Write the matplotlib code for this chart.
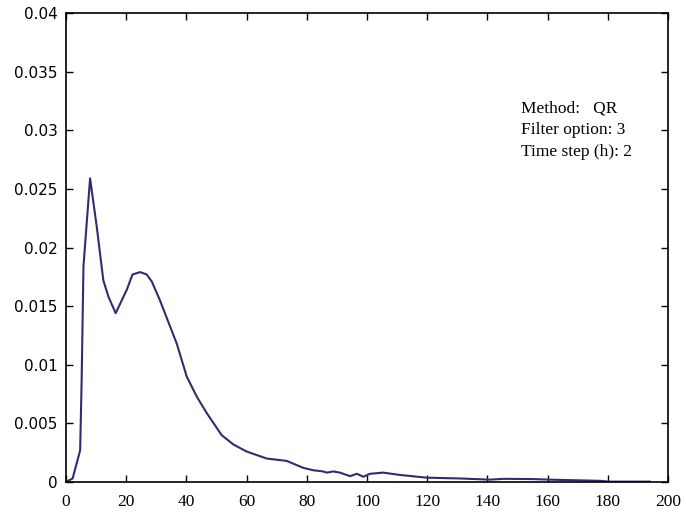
import matplotlib
matplotlib.use("Agg")
import matplotlib.pyplot as plt

# Data
x = [0, 2.2, 4.7, 5.2, 5.8, 8.0, 10.2, 12.4, 14.1, 16.5, 20.2, 22.1, 24.6, 26.8,
     28.5, 31.2, 36.8, 40.1, 43.4, 46.7, 51.7, 55.6, 60.0, 66.7, 73.3, 78.9,
     82.2, 85.5, 86.6, 88.8, 91.0, 94.4, 96.6, 98.8, 101.0, 105.4, 111.0, 119.8,
     131.0, 140.9, 145.3, 155.0, 160.8, 177.4, 180.7, 194.0]
y = [0.0, 0.0003, 0.0027, 0.0087, 0.0184, 0.0259, 0.0218, 0.0172, 0.0158, 0.0144,
     0.0164, 0.0177, 0.0179, 0.0177, 0.0171, 0.0155, 0.0118, 0.0090, 0.0073,
     0.0059, 0.0040, 0.0032, 0.0026, 0.0020, 0.0018, 0.0012, 0.0010, 0.0009,
     0.0008, 0.0009, 0.0008, 0.0005, 0.0007, 0.00045, 0.0007, 0.0008, 0.0006,
     0.00037, 0.0003, 0.0002, 0.00027, 0.00025, 0.0002, 0.0001, 0.00003, 0.00003]

xticks = [0, 20, 40, 60, 80, 100, 120, 140, 160, 180, 200]
yticks = [0, 0.005, 0.01, 0.015, 0.02, 0.025, 0.03, 0.035, 0.04]
ytick_labels = ["0", "0.005", "0.01", "0.015", "0.02", "0.025", "0.03", "0.035", "0.04"]
info_lines = ["Method:   QR", "Filter option: 3", "Time step (h): 2"]

fig = plt.figure(figsize=(6.86, 5.13), dpi=100)
ax = fig.add_axes([66 / 686, 1 - 482 / 513, (668 - 66) / 686, (482 - 13) / 513])

ax.plot(x, y, color="#2e2e6e", linewidth=1.5)

ax.set_xlim(0, 200)
ax.set_ylim(0, 0.04)
ax.set_xticks(xticks)
ax.set_xticklabels([str(t) for t in xticks], fontfamily="Liberation Serif", fontsize=12.5)
ax.set_yticks(yticks)
ax.set_yticklabels(ytick_labels, fontfamily="DejaVu Sans", fontsize=11)
ax.tick_params(direction="in", top=True, right=True, length=5, width=1, color="black")
ax.tick_params(axis="x", pad=9)
ax.tick_params(axis="y", pad=6)
for s in ax.spines.values():
    s.set_linewidth(1.2)
    s.set_color("black")

for i, line in enumerate(info_lines):
    ax.text(0.755, 0.797 - i * 0.047, line, transform=ax.transAxes,
            fontfamily="Liberation Serif", fontsize=12.5, va="center", ha="left")

fig.savefig("out.png", dpi=100)
